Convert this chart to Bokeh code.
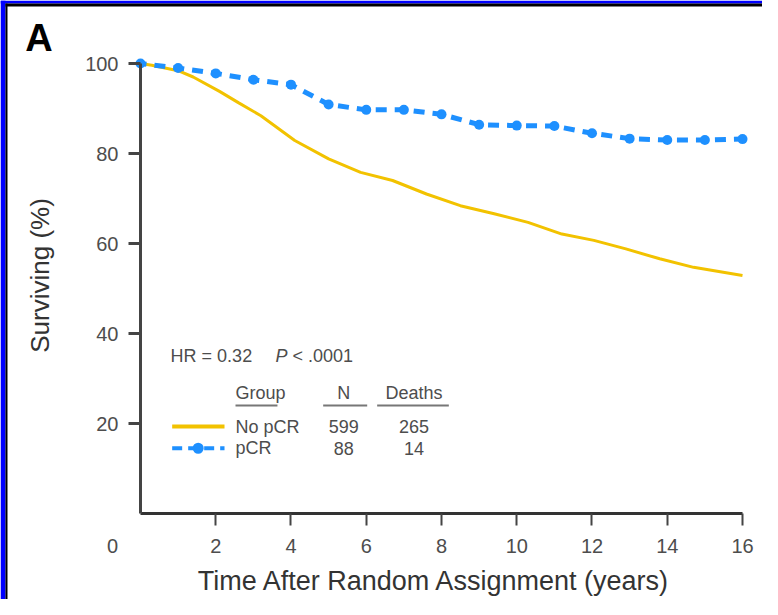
import math
from bokeh.plotting import figure
from bokeh.models import Range1d, FixedTicker, Label, BoxAnnotation
from bokeh.embed import file_html
from bokeh.resources import INLINE

# ---------------- data ----------------
no_pcr_years = [0, 0.3, 1.0, 1.4, 2.1, 2.6, 3.2, 4.1, 5.0, 5.85, 6.7, 7.6, 8.5,
                9.4, 10.3, 11.2, 12.05, 12.9, 13.8, 14.7, 16.0]
no_pcr_surv = [100, 99.6, 98.4, 97.0, 93.8, 91.3, 88.4, 82.9, 78.8, 75.8, 74.0,
               71.0, 68.4, 66.6, 64.7, 62.1, 60.7, 58.8, 56.6, 54.7, 52.9]

pcr_years = [0, 1, 2, 3, 4, 5, 6, 7, 8, 9, 10, 11, 12, 13, 14, 15, 16]
pcr_surv = [100, 99.0, 97.8, 96.4, 95.3, 90.9, 89.7, 89.7, 88.7, 86.4, 86.2,
            86.1, 84.5, 83.3, 83.0, 83.0, 83.2]

x_ticks = [2, 4, 6, 8, 10, 12, 14, 16]
y_ticks = [20, 40, 60, 80, 100]

groups = ["No pCR", "pCR"]
group_n = ["599", "88"]
group_deaths = ["265", "14"]
header = ["Group", "N", "Deaths"]
hr_text = "HR = 0.32"
p_text = "< .0001"

YELLOW = "#F2C200"
BLUE = "#1E90FF"
FONT = "Liberation Sans"
TXT = "#4d4d4d"

# frame fills the whole canvas; axes are drawn at x = 0 and y = 0
p = figure(width=762, height=599, output_backend="svg", toolbar_location=None,
           x_range=Range1d(-3.7209, 16.5316), y_range=Range1d(-19.111, 114.0),
           min_border=0)
p.background_fill_color = "white"
p.border_fill_color = "white"
p.outline_line_color = None
p.grid.visible = False

# x axis
xa = p.xaxis[0]
xa.fixed_location = 0
xa.ticker = FixedTicker(ticks=x_ticks)
xa.bounds = (0, 16)
xa.axis_line_width = 3
xa.axis_line_color = "#333333"
xa.major_tick_out = 12
xa.major_tick_in = 0
xa.major_tick_line_width = 2
xa.major_tick_line_color = "#444444"
xa.minor_tick_line_color = None
xa.major_label_standoff = 13
xa.major_label_text_font = FONT
xa.major_label_text_font_size = "20px"
xa.major_label_text_color = TXT

# y axis
ya = p.yaxis[0]
ya.fixed_location = 0
ya.ticker = FixedTicker(ticks=y_ticks)
ya.bounds = (0, 100)
ya.axis_line_width = 3
ya.axis_line_color = "#444444"
ya.major_tick_out = 12
ya.major_tick_in = 0
ya.major_tick_line_width = 3
ya.major_tick_line_color = "#444444"
ya.minor_tick_line_color = None
ya.major_label_standoff = 10
ya.major_label_text_font = FONT
ya.major_label_text_font_size = "20px"
ya.major_label_text_color = TXT

# curves
p.line(no_pcr_years, no_pcr_surv, line_color=YELLOW, line_width=3)
p.line(pcr_years, pcr_surv, line_color=BLUE, line_width=5, line_dash="11 8",
       line_dash_offset=5)
p.scatter(pcr_years, pcr_surv, size=10, fill_color=BLUE, line_color=None)

# texts
def lab(text, x, y, size="18px", align="left", color=TXT, style="normal",
        angle=0, x_offset=0, y_offset=0):
    p.add_layout(Label(x=x, y=y, text=text, text_font=FONT, text_font_size=size,
                       text_align=align, text_baseline="middle",
                       text_color=color, text_font_style=style, angle=angle,
                       x_offset=x_offset, y_offset=y_offset))

lab("A", -2.70, 105.7, size="38px", align="center", color="#000000", style="bold")
lab("0", 0, 0, size="20px", align="center", x_offset=-28, y_offset=-32)
lab("Surviving (%)", -2.66, 52.9, size="26px", align="center", color="#333333",
    angle=math.pi / 2)
lab("Time After Random Assignment (years)", 7.81, -15.0, size="27px",
    align="center", color="#333333")

# stats and legend table
lab(hr_text, 0.80, 35.1, size="18px")
lab("P", 3.59, 35.1, size="18px", style="italic")
lab(p_text, 4.04, 35.1, size="18px")

col_x = [2.525, 5.40, 7.27]
col_align = ["left", "center", "center"]
for h, cx, al in zip(header, col_x, col_align):
    lab(h, cx, 26.8, size="18px", align=al)
p.segment(x0=[2.525, 4.855, 6.29], y0=[24.0] * 3, x1=[3.64, 6.025, 8.195],
          y1=[24.0] * 3, line_color="#777777", line_width=2)

row_y = [19.33, 14.5]
for g, n, d, ry in zip(groups, group_n, group_deaths, row_y):
    lab(g, col_x[0], ry, size="18px")
    lab(n, col_x[1], ry, size="18px", align="center")
    lab(d, col_x[2], ry, size="18px", align="center")

p.line([0.842, 2.233], [row_y[0]] * 2, line_color=YELLOW, line_width=4)
p.line([0.842, 2.233], [row_y[1]] * 2, line_color=BLUE, line_width=4,
       line_dash="10 6")
p.scatter([1.533], [row_y[1]], size=11, fill_color=BLUE, line_color=None)

# page frame (blue with a black inner rule) on the left and top edges
p.add_layout(BoxAnnotation(right=-3.588, fill_color="#0000ff", fill_alpha=1,
                           line_color=None, level="underlay"))
p.add_layout(BoxAnnotation(left=-3.588, right=-3.535, bottom=-19.111, top=113.33,
                           fill_color="#000000", fill_alpha=1, line_color=None,
                           level="underlay"))
p.add_layout(BoxAnnotation(bottom=113.33, fill_color="#0000ff", fill_alpha=1,
                           line_color=None, level="underlay"))
p.add_layout(BoxAnnotation(left=-3.588, bottom=112.67, top=113.33,
                           fill_color="#000000", fill_alpha=1, line_color=None,
                           level="underlay"))

open("out.html", "w").write(file_html(p, INLINE))
